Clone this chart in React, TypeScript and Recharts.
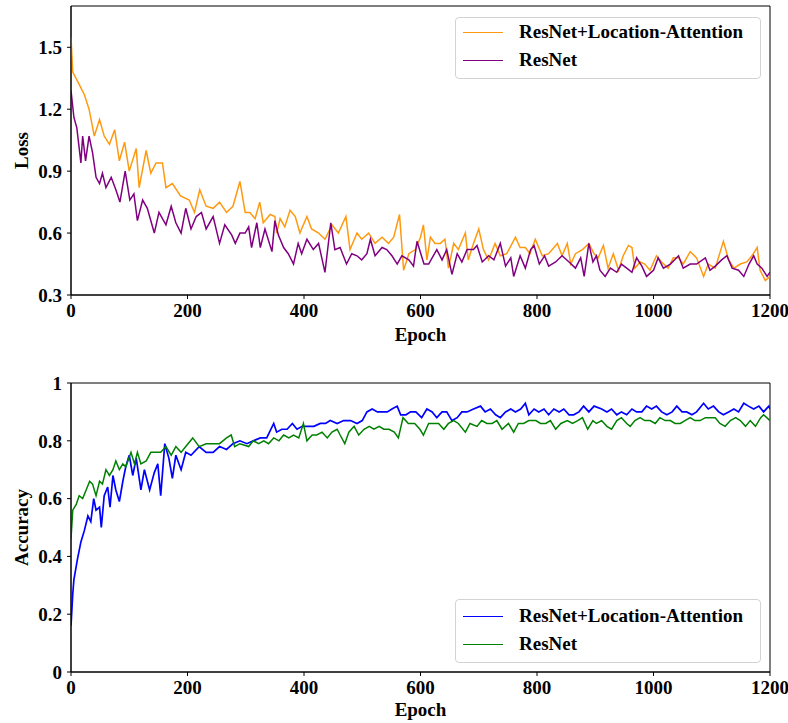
import React from "react";
import { LineChart, Line, XAxis, YAxis, Legend, ReferenceArea } from "recharts";

// ---------- data ----------
const epochTicks = [0, 200, 400, 600, 800, 1000, 1200];
const lossTicks = [0.3, 0.6, 0.9, 1.2, 1.5];
const accTicks = [0, 0.2, 0.4, 0.6, 0.8, 1];

const seriesNames = ["ResNet+Location-Attention", "ResNet"];
const lossColors = ["#FF9A10", "#800080"];
const accColors = ["#0000FF", "#008000"];

const lossAttnEpochs = [
  0, 3, 14, 23, 31, 40, 49, 57, 66, 75,
  83, 92, 100, 112, 117, 129, 137, 146, 157, 163,
  174, 188, 203, 212, 221, 232, 244, 255, 267, 278,
  290, 299, 307, 316, 324, 330, 342, 350, 353, 359,
  367, 376, 385, 393, 405, 413, 425, 436, 448, 459,
  472, 479, 491, 499, 511, 522, 534, 545, 554, 564,
  571, 580, 591, 600, 605, 611, 617, 625, 634, 642,
  648, 657, 665, 677, 682, 691, 700, 708, 717, 728,
  737, 748, 763, 771, 780, 788, 797, 809, 820, 835,
  843, 852, 858, 866, 878, 889, 898, 905, 914, 922,
  931, 940, 948, 957, 963, 968, 977, 985, 994, 1005,
  1014, 1025, 1034, 1043, 1051, 1063, 1074, 1086, 1094, 1106,
  1120, 1129, 1138, 1149, 1160, 1169, 1178, 1183, 1192, 1200,
];
const lossAttn = [
  1.55, 1.38, 1.32, 1.27, 1.2, 1.07, 1.15, 1.07, 1.03, 1.1,
  0.95, 1.04, 0.9, 1.01, 0.82, 1.0, 0.89, 0.94, 0.94, 0.82,
  0.84, 0.78, 0.76, 0.7, 0.81, 0.73, 0.72, 0.75, 0.7, 0.73,
  0.85, 0.7, 0.7, 0.67, 0.75, 0.65, 0.69, 0.68, 0.6, 0.67,
  0.63, 0.71, 0.68, 0.6, 0.68, 0.62, 0.6, 0.57, 0.64, 0.6,
  0.68, 0.52, 0.6, 0.57, 0.6, 0.55, 0.58, 0.55, 0.58, 0.69,
  0.42, 0.5, 0.52, 0.58, 0.64, 0.47, 0.58, 0.55, 0.55, 0.57,
  0.43, 0.55, 0.52, 0.6, 0.47, 0.55, 0.62, 0.52, 0.47, 0.55,
  0.49, 0.5, 0.58, 0.53, 0.53, 0.5, 0.57, 0.49, 0.5, 0.55,
  0.49, 0.55, 0.45, 0.5, 0.52, 0.55, 0.5, 0.48, 0.54, 0.43,
  0.5, 0.42, 0.49, 0.54, 0.53, 0.43, 0.46, 0.45, 0.42, 0.49,
  0.46, 0.43, 0.48, 0.48, 0.45, 0.51, 0.48, 0.39, 0.45, 0.43,
  0.56, 0.47, 0.43, 0.45, 0.46, 0.49, 0.53, 0.42, 0.37, 0.39,
];

const lossBaseEpochs = [
  0, 5, 10, 17, 20, 25, 31, 37, 43, 49,
  54, 60, 69, 77, 84, 93, 101, 108, 114, 123,
  131, 143, 151, 163, 172, 180, 189, 197, 206, 215,
  224, 232, 244, 255, 264, 276, 282, 290, 299, 305,
  310, 319, 325, 333, 345, 350, 356, 365, 373, 382,
  390, 396, 405, 416, 425, 436, 446, 453, 462, 473,
  482, 491, 499, 508, 514, 522, 534, 542, 551, 560,
  568, 580, 588, 594, 606, 614, 628, 637, 645, 654,
  663, 671, 680, 691, 697, 706, 717, 726, 737, 746,
  755, 760, 771, 780, 789, 795, 804, 813, 820, 832,
  843, 855, 866, 875, 881, 889, 896, 902, 908, 917,
  926, 937, 945, 954, 963, 971, 980, 988, 1000, 1008,
  1017, 1029, 1043, 1051, 1063, 1074, 1089, 1097, 1106, 1117,
  1126, 1135, 1146, 1155, 1164, 1172, 1178, 1186, 1195, 1200,
];
const lossBase = [
  1.29, 1.16, 1.11, 0.94, 1.07, 0.95, 1.07, 0.99, 0.87, 0.84,
  0.89, 0.82, 0.87, 0.81, 0.75, 0.9, 0.76, 0.79, 0.66, 0.76,
  0.72, 0.6, 0.7, 0.64, 0.73, 0.65, 0.6, 0.72, 0.62, 0.68,
  0.7, 0.62, 0.68, 0.55, 0.64, 0.59, 0.55, 0.6, 0.6, 0.63,
  0.53, 0.65, 0.53, 0.62, 0.51, 0.66, 0.59, 0.53, 0.5, 0.45,
  0.55, 0.5, 0.57, 0.52, 0.55, 0.41, 0.65, 0.52, 0.53, 0.45,
  0.5, 0.49, 0.47, 0.5, 0.57, 0.49, 0.53, 0.52, 0.49, 0.45,
  0.49, 0.47, 0.44, 0.56, 0.45, 0.45, 0.52, 0.47, 0.52, 0.4,
  0.5, 0.46, 0.52, 0.52, 0.54, 0.46, 0.49, 0.47, 0.55, 0.44,
  0.48, 0.39, 0.49, 0.43, 0.52, 0.54, 0.45, 0.49, 0.44, 0.46,
  0.49, 0.46, 0.43, 0.48, 0.39, 0.55, 0.46, 0.49, 0.42, 0.39,
  0.43, 0.41, 0.45, 0.43, 0.41, 0.48, 0.44, 0.39, 0.42, 0.48,
  0.43, 0.45, 0.49, 0.43, 0.45, 0.45, 0.48, 0.42, 0.44, 0.47,
  0.49, 0.43, 0.42, 0.39, 0.45, 0.49, 0.45, 0.43, 0.39, 0.41,
];

const accAttnEpochs = [
  0, 3, 5, 11, 17, 23, 29, 34, 39, 43,
  49, 52, 57, 63, 67, 72, 77, 83, 89, 94,
  100, 106, 112, 120, 126, 135, 143, 149, 154, 161,
  168, 174, 180, 189, 197, 206, 220, 232, 244, 255,
  267, 278, 290, 302, 313, 325, 336, 348, 353, 362,
  371, 380, 388, 397, 405, 417, 428, 437, 445, 457,
  468, 480, 491, 500, 508, 517, 526, 534, 543, 551,
  560, 566, 575, 583, 592, 602, 611, 620, 628, 637,
  645, 654, 663, 671, 680, 691, 703, 711, 720, 729,
  737, 746, 755, 763, 772, 780, 786, 795, 803, 812,
  820, 829, 838, 846, 855, 863, 872, 880, 889, 898,
  911, 920, 928, 937, 945, 954, 963, 971, 980, 988,
  997, 1005, 1014, 1023, 1032, 1040, 1049, 1057, 1066, 1074,
  1086, 1094, 1103, 1112, 1120, 1129, 1138, 1146, 1155, 1163,
  1172, 1181, 1189, 1198, 1200,
];
const accAttn = [
  0.16, 0.27, 0.32, 0.39, 0.45, 0.49, 0.54, 0.52, 0.6, 0.56,
  0.57, 0.5, 0.61, 0.64, 0.57, 0.68, 0.63, 0.59, 0.66, 0.71,
  0.75, 0.68, 0.74, 0.63, 0.7, 0.63, 0.69, 0.72, 0.61, 0.79,
  0.74, 0.67, 0.75, 0.7, 0.76, 0.75, 0.78, 0.76, 0.76, 0.78,
  0.77, 0.79, 0.8, 0.79, 0.8, 0.81, 0.81, 0.86, 0.83, 0.84,
  0.84, 0.86, 0.84, 0.85, 0.85, 0.85, 0.86, 0.86, 0.87, 0.86,
  0.87, 0.87, 0.86, 0.87, 0.9, 0.91, 0.9, 0.9, 0.9, 0.91,
  0.92, 0.89, 0.89, 0.9, 0.9, 0.88, 0.91, 0.9, 0.88, 0.9,
  0.9, 0.87, 0.88, 0.9, 0.9, 0.91, 0.92, 0.9, 0.91, 0.89,
  0.88, 0.9, 0.91, 0.9, 0.91, 0.93, 0.89, 0.91, 0.9, 0.91,
  0.89, 0.91, 0.9, 0.91, 0.89, 0.89, 0.9, 0.92, 0.9, 0.92,
  0.91, 0.9, 0.91, 0.89, 0.9, 0.89, 0.91, 0.9, 0.9, 0.92,
  0.91, 0.92, 0.9, 0.89, 0.9, 0.92, 0.9, 0.9, 0.89, 0.9,
  0.93, 0.91, 0.92, 0.9, 0.89, 0.9, 0.91, 0.9, 0.93, 0.92,
  0.91, 0.92, 0.9, 0.92, 0.91,
];

const accBaseEpochs = [
  0, 3, 9, 14, 20, 26, 32, 37, 43, 49,
  54, 60, 66, 72, 77, 83, 89, 94, 103, 109,
  114, 120, 129, 137, 146, 154, 163, 172, 180, 189,
  197, 209, 220, 232, 244, 255, 267, 275, 281, 290,
  305, 313, 322, 331, 339, 348, 357, 365, 374, 382,
  391, 399, 405, 414, 422, 431, 440, 448, 457, 462,
  470, 477, 486, 494, 503, 512, 520, 529, 537, 546,
  555, 562, 570, 579, 590, 599, 605, 614, 622, 631,
  640, 648, 657, 665, 677, 685, 697, 705, 714, 723,
  731, 740, 751, 760, 768, 777, 786, 798, 806, 815,
  823, 832, 841, 852, 861, 870, 878, 887, 896, 902,
  911, 920, 928, 937, 945, 954, 960, 968, 977, 985,
  994, 1003, 1011, 1020, 1029, 1037, 1046, 1054, 1063, 1071,
  1080, 1089, 1097, 1106, 1114, 1123, 1132, 1141, 1149, 1158,
  1166, 1175, 1184, 1189, 1200,
];
const accBase = [
  0.46, 0.56, 0.58, 0.61, 0.6, 0.63, 0.66, 0.65, 0.61, 0.66,
  0.65, 0.7, 0.68, 0.7, 0.73, 0.7, 0.72, 0.71, 0.76, 0.72,
  0.76, 0.72, 0.73, 0.76, 0.76, 0.76, 0.78, 0.75, 0.78, 0.76,
  0.78, 0.81, 0.78, 0.79, 0.79, 0.79, 0.81, 0.82, 0.78, 0.79,
  0.78, 0.8, 0.79, 0.8, 0.79, 0.81, 0.8, 0.82, 0.81, 0.82,
  0.81, 0.86, 0.8, 0.82, 0.82, 0.83, 0.81, 0.83, 0.84, 0.82,
  0.79, 0.83, 0.85, 0.82, 0.84, 0.85, 0.84, 0.85, 0.84, 0.84,
  0.83, 0.81, 0.88, 0.86, 0.86, 0.84, 0.82, 0.86, 0.86, 0.86,
  0.84, 0.86, 0.87, 0.86, 0.83, 0.86, 0.85, 0.87, 0.86, 0.86,
  0.87, 0.84, 0.86, 0.83, 0.86, 0.86, 0.87, 0.87, 0.86, 0.86,
  0.87, 0.84, 0.86, 0.87, 0.86, 0.87, 0.88, 0.84, 0.87, 0.86,
  0.87, 0.85, 0.84, 0.87, 0.88, 0.86, 0.85, 0.87, 0.88, 0.87,
  0.87, 0.86, 0.88, 0.87, 0.87, 0.86, 0.86, 0.87, 0.88, 0.87,
  0.87, 0.88, 0.88, 0.88, 0.86, 0.85, 0.87, 0.88, 0.87, 0.85,
  0.87, 0.85, 0.88, 0.89, 0.87,
];

// ---------- helpers ----------
const zip = (xs: number[], ys: number[]) =>
  xs.slice(0, Math.min(xs.length, ys.length)).map((x, i) => ({ epoch: x, v: ys[i] }));

const FONT = "'Liberation Serif', 'Times New Roman', serif";
const tickStyle = { fontFamily: FONT, fontWeight: 700, fontSize: 19, fill: "#000" };

const XTitle = (props: any) => {
  const vb = props.viewBox || {};
  return (
    <text
      x={vb.x + vb.width / 2}
      y={vb.y + props.dy0}
      textAnchor="middle"
      fontFamily={FONT}
      fontWeight={700}
      fontSize={19}
      fill="#000"
    >
      {props.text}
    </text>
  );
};

const YTitle = (props: any) => {
  const vb = props.viewBox || {};
  const cx = 21;
  const cy = vb.y + vb.height / 2;
  return (
    <text
      x={cx}
      y={cy}
      transform={`rotate(-90 ${cx} ${cy})`}
      textAnchor="middle"
      dominantBaseline="central"
      fontFamily={FONT}
      fontWeight={700}
      fontSize={19}
      fill="#000"
    >
      {props.text}
    </text>
  );
};

const LegendBox = (props: any) => {
  const names: string[] = props.names;
  const colors: string[] = props.colors;
  return (
    <div
      style={{
        width: 306,
        height: props.h,
        boxSizing: "border-box",
        border: "1px solid #d3d3d3",
        borderRadius: 4,
        background: "rgba(255,255,255,0.85)",
        paddingTop: props.pt,
        fontFamily: FONT,
        fontWeight: 700,
        fontSize: 19,
        color: "#000",
      }}
    >
      {names.map((n, i) => (
        <div key={n} style={{ display: "flex", alignItems: "center", height: 28 }}>
          <div style={{ marginLeft: 7, width: 40, borderTop: `1.5px solid ${colors[i]}` }} />
          <span style={{ marginLeft: 16, lineHeight: "28px" }}>{n}</span>
        </div>
      ))}
    </div>
  );
};

const accFmt = (v: number) => (v === 0 ? "0" : v === 1 ? "1" : v.toFixed(1));

export default function App() {
  const lossA = zip(lossAttnEpochs, lossAttn);
  const lossB = zip(lossBaseEpochs, lossBase);
  const accA = zip(accAttnEpochs, accAttn);
  const accB = zip(accBaseEpochs, accBase);

  return (
    <div style={{ position: "absolute", left: 0, top: 0, width: 788, height: 723, background: "#fff" }}>
      <div style={{ position: "absolute", left: 0, top: 0 }}>
        <LineChart width={788} height={355} margin={{ top: 6, right: 18, left: 11, bottom: 10 }}>
          <XAxis
            dataKey="epoch"
            type="number"
            domain={[0, 1200]}
            ticks={epochTicks}
            allowDataOverflow
            height={50}
            tickSize={4}
            tickMargin={5}
            tick={tickStyle}
            stroke="#000"
            interval={0}
            label={<XTitle text="Epoch" dy0={46} />}
          />
          <YAxis
            type="number"
            domain={[0.3, 1.7]}
            ticks={lossTicks}
            allowDataOverflow
            width={60}
            tickSize={4}
            tickMargin={5}
            tick={tickStyle}
            stroke="#000"
            interval={0}
            tickFormatter={(v: number) => v.toFixed(1)}
            label={<YTitle text="Loss" />}
          />
          <ReferenceArea x1={0} x2={1200} y1={0.3} y2={1.7} fill="none" stroke="#000" strokeWidth={1} />
          <Line data={lossA} dataKey="v" name={seriesNames[0]} stroke={lossColors[0]} strokeWidth={1.5} dot={false} isAnimationActive={false} />
          <Line data={lossB} dataKey="v" name={seriesNames[1]} stroke={lossColors[1]} strokeWidth={1.5} dot={false} isAnimationActive={false} />
          <Legend
            layout="horizontal"
            verticalAlign="middle"
            align="center"
            wrapperStyle={{ position: "absolute", left: 455, top: 17, width: 306, height: 62 }}
            content={<LegendBox h={62} pt={0} names={seriesNames} colors={lossColors} />}
          />
        </LineChart>
      </div>

      <div style={{ position: "absolute", left: 0, top: 355 }}>
        <LineChart width={788} height={368} margin={{ top: 28, right: 18, left: 11, bottom: 6 }}>
          <XAxis
            dataKey="epoch"
            type="number"
            domain={[0, 1200]}
            ticks={epochTicks}
            allowDataOverflow
            height={45}
            tickSize={4}
            tickMargin={5}
            tick={tickStyle}
            stroke="#000"
            interval={0}
            label={<XTitle text="Epoch" dy0={44} />}
          />
          <YAxis
            type="number"
            domain={[0, 1]}
            ticks={accTicks}
            allowDataOverflow
            width={60}
            tickSize={4}
            tickMargin={5}
            tick={tickStyle}
            stroke="#000"
            interval={0}
            tickFormatter={accFmt}
            label={<YTitle text="Accuracy" />}
          />
          <ReferenceArea x1={0} x2={1200} y1={0} y2={1} fill="none" stroke="#000" strokeWidth={1} />
          <Line data={accA} dataKey="v" name={seriesNames[0]} stroke={accColors[0]} strokeWidth={1.7} dot={false} isAnimationActive={false} />
          <Line data={accB} dataKey="v" name={seriesNames[1]} stroke={accColors[1]} strokeWidth={1.5} dot={false} isAnimationActive={false} />
          <Legend
            layout="horizontal"
            verticalAlign="middle"
            align="center"
            wrapperStyle={{ position: "absolute", left: 455, top: 244, width: 306, height: 64 }}
            content={<LegendBox h={64} pt={2} names={seriesNames} colors={accColors} />}
          />
        </LineChart>
      </div>
    </div>
  );
}
